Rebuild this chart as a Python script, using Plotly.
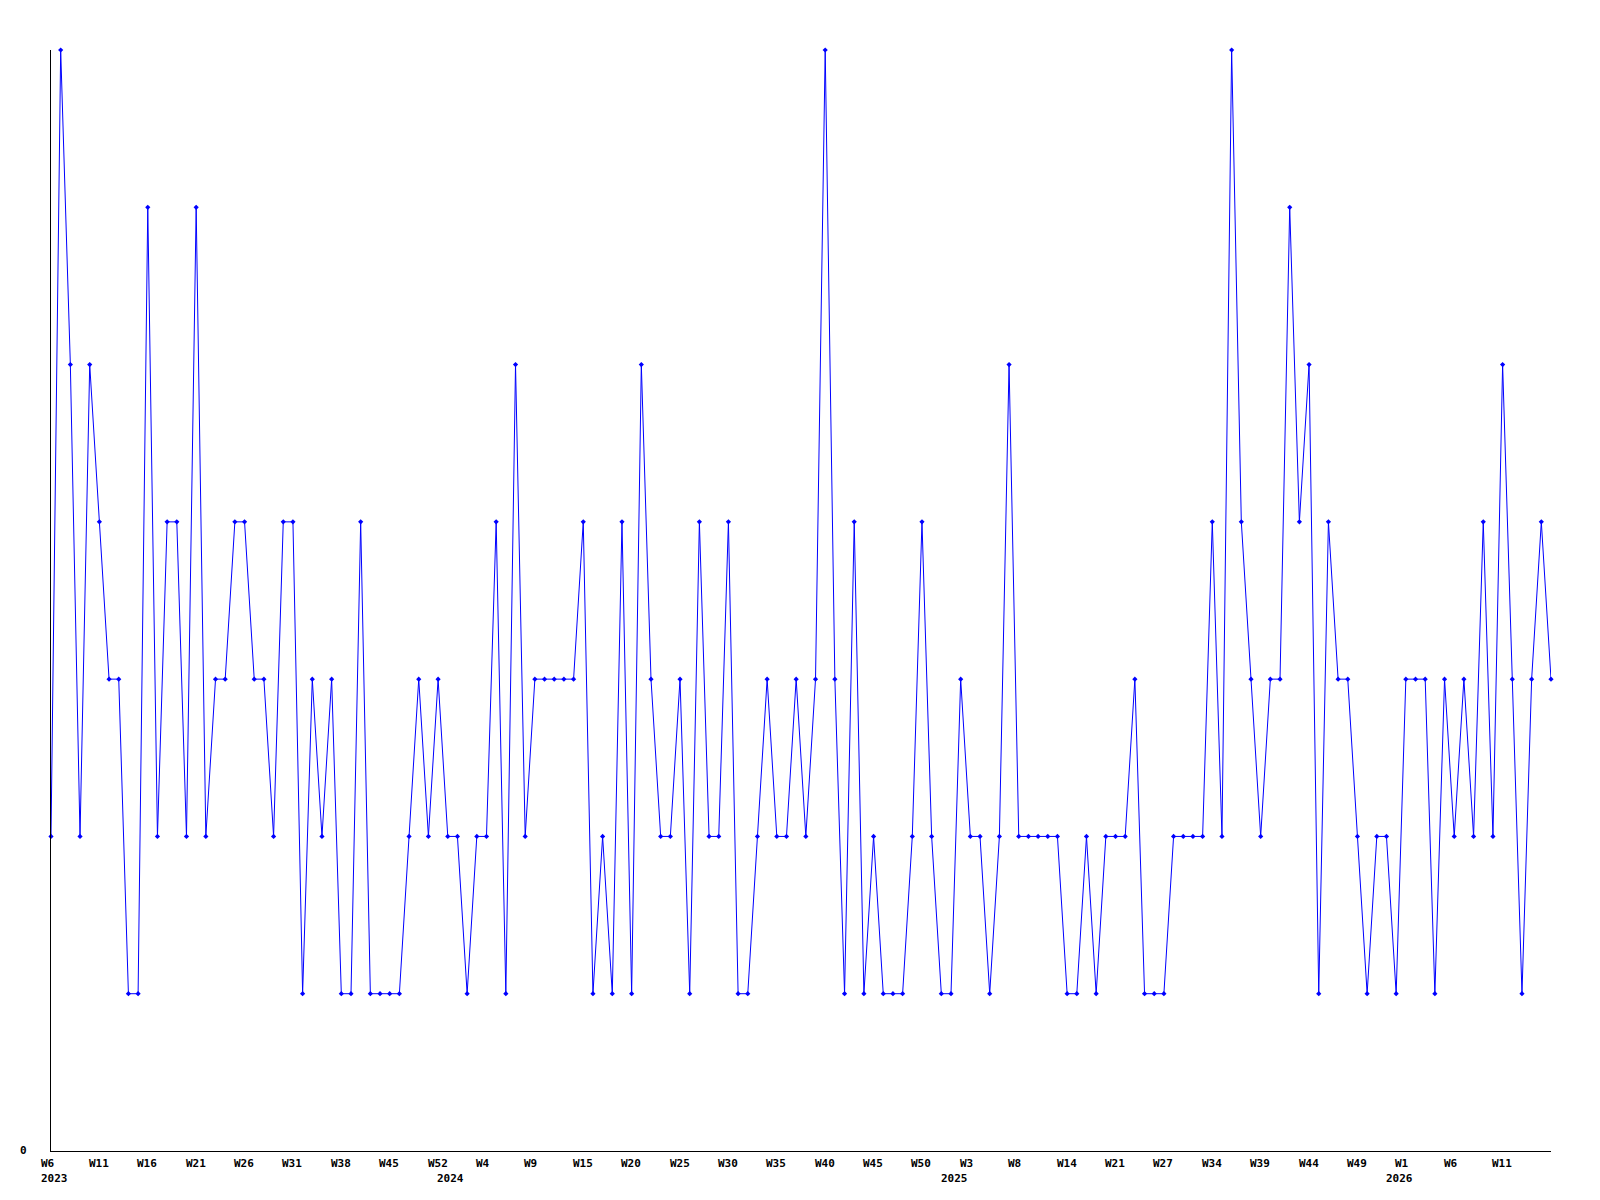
import plotly.graph_objects as go

# Weekly values (one point per sampled week, evenly spaced)
values = [
    2, 7, 5, 2, 5, 4, 3, 3, 1, 1,
    6, 2, 4, 4, 2, 6, 2, 3, 3, 4,
    4, 3, 3, 2, 4, 4, 1, 3, 2, 3,
    1, 1, 4, 1, 1, 1, 1, 2, 3, 2,
    3, 2, 2, 1, 2, 2, 4, 1, 5, 2,
    3, 3, 3, 3, 3, 4, 1, 2, 1, 4,
    1, 5, 3, 2, 2, 3, 1, 4, 2, 2,
    4, 1, 1, 2, 3, 2, 2, 3, 2, 3,
    7, 3, 1, 4, 1, 2, 1, 1, 1, 2,
    4, 2, 1, 1, 3, 2, 2, 1, 2, 5,
    2, 2, 2, 2, 2, 1, 1, 2, 1, 2,
    2, 2, 3, 1, 1, 1, 2, 2, 2, 2,
    4, 2, 7, 4, 3, 2, 3, 3, 6, 4,
    5, 1, 4, 3, 3, 2, 1, 2, 2, 1,
    3, 3, 3, 1, 3, 2, 3, 2, 4, 2,
    5, 3, 1, 3, 4, 3,
]

# Week tick labels, one every 5 points
week_labels = [
    "W6", "W11", "W16", "W21", "W26", "W31", "W38", "W45", "W52", "W4",
    "W9", "W15", "W20", "W25", "W30", "W35", "W40", "W45", "W50", "W3",
    "W8", "W14", "W21", "W27", "W34", "W39", "W44", "W49", "W1", "W6", "W11",
]
week_label_step = 5

# Year labels and the point index where each starts
year_labels = ["2023", "2024", "2025", "2026"]
year_positions = [0, 41, 93, 139]

y_tick_values = [0]
y_tick_labels = ["0"]

x_index = list(range(len(values)))

FONT = dict(family="DejaVu Sans Mono", size=11, color="black", weight="bold")

fig = go.Figure()
fig.add_trace(go.Scatter(
    x=x_index,
    y=values,
    mode="lines+markers",
    line=dict(color="#0000ff", width=1),
    marker=dict(symbol="diamond", size=4, color="#0000ff"),
    cliponaxis=False,
    hoverinfo="skip",
    showlegend=False,
))

annotations = []
for i, lab in enumerate(week_labels):
    annotations.append(dict(
        x=i * week_label_step, xref="x", y=0, yref="y",
        text=lab, showarrow=False, xanchor="left", yanchor="middle",
        xshift=-12.5, yshift=-12, font=FONT,
    ))
for lab, pos in zip(year_labels, year_positions):
    annotations.append(dict(
        x=pos, xref="x", y=0, yref="y",
        text=lab, showarrow=False, xanchor="left", yanchor="middle",
        xshift=-12.5, yshift=-27, font=FONT,
    ))
for v, lab in zip(y_tick_values, y_tick_labels):
    annotations.append(dict(
        x=0, xref="x", y=v, yref="y",
        text=lab, showarrow=False, xanchor="right", yanchor="middle",
        xshift=-22, yshift=0.5, font=FONT,
    ))

fig.update_layout(
    width=1600,
    height=1200,
    margin=dict(l=43, r=57, t=42, b=57, pad=0),
    paper_bgcolor="white",
    plot_bgcolor="white",
    font=FONT,
    annotations=annotations,
    xaxis=dict(
        range=[0, len(values) - 1],
        showline=True, linecolor="black", linewidth=1,
        showgrid=False, zeroline=False, showticklabels=False, ticks="",
        fixedrange=True,
    ),
    yaxis=dict(
        range=[0, 7],
        showline=True, linecolor="black", linewidth=1,
        showgrid=False, zeroline=False, showticklabels=False, ticks="",
        fixedrange=True,
    ),
)

fig.write_html("out.html", config={"displayModeBar": False})
